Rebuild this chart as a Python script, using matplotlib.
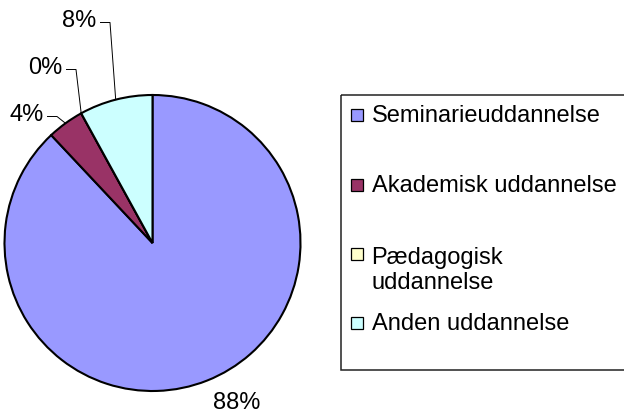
import matplotlib.pyplot as plt
from matplotlib.patches import Rectangle
import numpy as np

plt.rcParams['font.family'] = ['Liberation Sans', 'DejaVu Sans']

# data
categories = ['Seminarieuddannelse', 'Akademisk uddannelse',
              'Pædagogisk\nuddannelse', 'Anden uddannelse']
values = [88, 4, 0, 8]
colors = ['#9999FF', '#993366', '#FFFFCC', '#CCFFFF']

W, H = 624, 416
cx, cy, R = 152.5, 243, 148   # pie centre / radius in pixels
FS = 17

fig = plt.figure(figsize=(W / 100, H / 100), dpi=100)
ax = fig.add_axes([(cx - R) / W, (H - cy - R) / H, 2 * R / W, 2 * R / H])

wedges, _ = ax.pie(values, colors=colors, startangle=90, counterclock=False,
                   wedgeprops=dict(edgecolor='black', linewidth=1.5))
ax.set_xlim(-1, 1)
ax.set_ylim(-1, 1)
ax.set_aspect('equal')
ax.axis('off')

# label placement (pixels): text centre for the big slice, elbow point for the rest
label_pos = [(236.5, 403), (57, 116.5), (76, 69.5), (110, 22.5)]

def to_data(px, py):
    return (px - cx) / R, (cy - py) / R

total = sum(values)
for i, (w, v) in enumerate(zip(wedges, values)):
    txt = f"{100 * v / total:.0f}%"
    if i == 0:
        x, y = to_data(*label_pos[i])
        ax.text(x, y, txt, ha='center', va='center', fontsize=FS, clip_on=False)
        continue
    mid = np.radians((w.theta1 + w.theta2) / 2)
    ex, ey = to_data(*label_pos[i])
    sx = ex - 9.5 / R
    ax.plot([sx, ex, np.cos(mid)], [ey, ey, np.sin(mid)], color='black',
            lw=0.7, clip_on=False)
    ax.text(sx - 4 / R, ey + 1.5 / R, txt, ha='right', va='center',
            fontsize=FS, clip_on=False)

# legend drawn in pixel space
lg = fig.add_axes([0, 0, 1, 1], facecolor='none')
lg.set_xlim(0, W)
lg.set_ylim(H, 0)
lg.axis('off')
lg.add_patch(Rectangle((341, 94.5), 400, 275.5, fill=False, edgecolor='#222222',
                       lw=1.1, clip_on=False))
rows = [115, 185, 253.5, 323]
line_px = 1.18 * FS * 100 / 72
for lab, col, ry in zip(categories, colors, rows):
    lg.add_patch(Rectangle((350.5, ry - 6), 12, 12, facecolor=col,
                           edgecolor='black', lw=0.9))
    extra = lab.count('\n') * line_px
    lg.text(371.5, ry + 7.5 + extra, lab, ha='left', va='baseline',
            fontsize=FS, linespacing=1.18)

fig.savefig('out.png', dpi=100)
